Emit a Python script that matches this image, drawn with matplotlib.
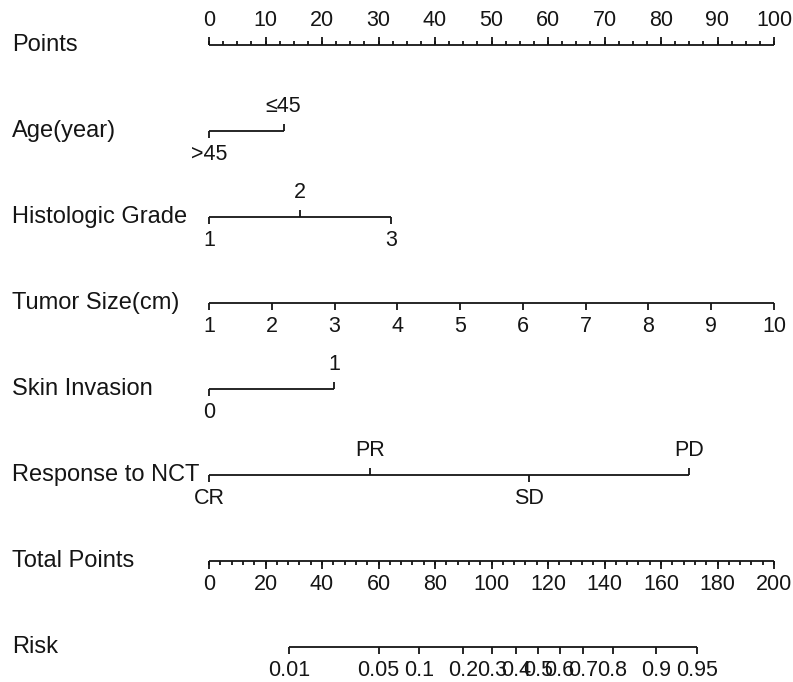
import numpy as np
import matplotlib
matplotlib.use("Agg")
import matplotlib.pyplot as plt

plt.rcParams['font.family'] = ['Liberation Sans', 'DejaVu Sans']

# ---------------- data ----------------
row_names = ['Points', 'Age(year)', 'Histologic Grade', 'Tumor Size(cm)',
             'Skin Invasion', 'Response to NCT', 'Total Points', 'Risk']

points_ticks = np.arange(0, 101, 10)
points_minor = np.arange(0, 100.01, 2.5)

age_levels = ['>45', '≤45']
age_points = [0, 13.2]

grade_levels = ['1', '2', '3']
grade_points = [0, 16.1, 32.2]

tumor_sizes = list(range(1, 11))
tumor_pts_per_cm = 100 / 9

skin_levels = ['0', '1']
skin_points = [0, 22.2]

response_levels = ['CR', 'PR', 'SD', 'PD']
response_points = [0, 28.5, 56.7, 84.9]

total_ticks = np.arange(0, 201, 20)
total_minor = np.arange(0, 200.01, 4)

risk_ticks = [0.01, 0.05, 0.1, 0.2, 0.3, 0.4, 0.5, 0.6, 0.7, 0.8, 0.9, 0.95]
risk_labels = ['0.01', '0.05', '0.1', '0.2', '0.3', '0.4', '0.5', '0.6',
               '0.7', '0.8', '0.9', '0.95']
lp_intercept = -6.084
lp_slope = 0.0523

# ---------------- layout ----------------
W, H = 793, 682
x0_px, x100_px = 209, 774
ppp = (x100_px - x0_px) / 100.0

fig = plt.figure(figsize=(W / 100, H / 100), dpi=100)
ax = fig.add_axes([0, 0, 1, 1])
ax.set_xlim(-x0_px / ppp, (W - x0_px) / ppp)
ax.set_ylim(H, 0)
ax.axis('off')

rows_y = [45 + 86 * i for i in range(8)]
LW = 1.3
LBL_FS = 17
TICK_FS = 15.5
off = 24
col = '#151515'

def line(xa, xb, y):
    ax.plot([xa, xb], [y, y], color=col, lw=LW, solid_capstyle='butt')

def tick(x, y, length):
    ax.plot([x, x], [y, y + length], color=col, lw=LW, solid_capstyle='butt')

for name, y in zip(row_names, rows_y):
    ax.text(-x0_px / ppp + 12 / ppp, y, name, fontsize=LBL_FS,
            ha='left', va='center', color=col)

# Points axis (ticks up, labels above)
y = rows_y[0]
line(0, 100, y)
for m in points_minor:
    tick(m, y, -4)
for t in points_ticks:
    tick(t, y, -8)
    ax.text(t, y - off, str(t), fontsize=TICK_FS, ha='center', va='center', color=col)

# categorical rows
def cat_row(y, levels, pts):
    line(min(pts), max(pts), y)
    order = np.argsort(pts)
    for k, i in enumerate(order):
        below = (k % 2 == 0)
        tick(pts[i], y, 7 if below else -7)
        ax.text(pts[i], y + (off if below else -off), levels[i],
                fontsize=TICK_FS, ha='center', va='center', color=col)

cat_row(rows_y[1], age_levels, age_points)
cat_row(rows_y[2], grade_levels, grade_points)

# Tumor size
y = rows_y[3]
tp = [(s - tumor_sizes[0]) * tumor_pts_per_cm for s in tumor_sizes]
line(tp[0], tp[-1], y)
for s, p in zip(tumor_sizes, tp):
    tick(p, y, 7)
    ax.text(p, y + off, str(s), fontsize=TICK_FS, ha='center', va='center', color=col)

cat_row(rows_y[4], skin_levels, skin_points)
cat_row(rows_y[5], response_levels, response_points)

# Total points (ticks down)
y = rows_y[6]
line(0, 100, y)
for m in total_minor:
    tick(m / 2, y, 4)
for t in total_ticks:
    tick(t / 2, y, 8)
    ax.text(t / 2, y + off, str(t), fontsize=TICK_FS, ha='center', va='center', color=col)

# Risk
y = rows_y[7]
risk_tp = [(np.log(r / (1 - r)) - lp_intercept) / lp_slope for r in risk_ticks]
line(risk_tp[0] / 2, risk_tp[-1] / 2, y)
for p, lab in zip(risk_tp, risk_labels):
    tick(p / 2, y, 7)
    ax.text(p / 2, y + off, lab, fontsize=TICK_FS, ha='center', va='center', color=col)

fig.savefig('out.png', dpi=100)
